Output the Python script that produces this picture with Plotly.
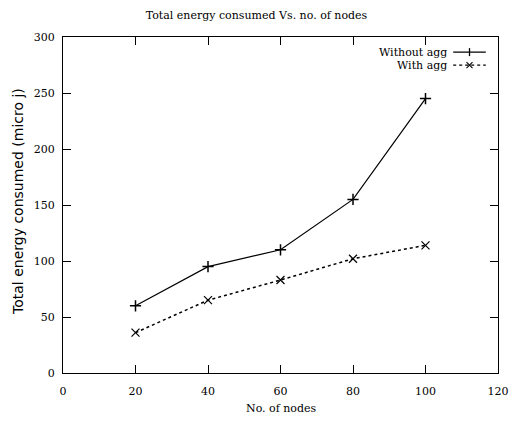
import plotly.graph_objects as go

nodes = [20, 40, 60, 80, 100]
without_agg = [60, 95, 110, 155, 245]
with_agg = [36, 65, 83, 102, 114]

serif = "DejaVu Serif, serif"
font = dict(family=serif, size=11, color="black")
tick_font = dict(family=serif, size=11, color="black")

fig = go.Figure()
fig.add_trace(go.Scatter(
    x=nodes, y=without_agg, mode="lines+markers", name="Without agg",
    line=dict(color="black", width=1.2),
    marker=dict(symbol="cross-thin-open", size=8, line=dict(color="black", width=1.5))
))
fig.add_trace(go.Scatter(
    x=nodes, y=with_agg, mode="lines+markers", name="With agg",
    line=dict(color="black", width=1.5, dash="dot"),
    marker=dict(symbol="x-thin-open", size=8, line=dict(color="black", width=1.2))
))

# gnuplot style legend: text right aligned, line sample to the right
legend_rows = [("Without agg", 0.955, "solid"), ("With agg", 0.916, "dot")]
for label, yp, dash in legend_rows:
    fig.add_annotation(x=0.885, y=yp, xref="paper", yref="paper", text=label,
                       showarrow=False, xanchor="right", yanchor="middle", font=font,
                       borderpad=0)
    fig.add_shape(type="line", xref="paper", yref="paper", x0=0.897, x1=0.972, y0=yp, y1=yp,
                  line=dict(color="black", width=1.2, dash=dash))
# sample markers
fig.add_shape(type="line", xref="paper", yref="paper", xsizemode="pixel", ysizemode="pixel",
              xanchor=0.9345, yanchor=0.955, x0=0, x1=0, y0=-4, y1=4,
              line=dict(color="black", width=1.3))
fig.add_shape(type="line", xref="paper", yref="paper", xsizemode="pixel", ysizemode="pixel",
              xanchor=0.9345, yanchor=0.916, x0=-3, x1=3, y0=-3, y1=3,
              line=dict(color="black", width=1.1))
fig.add_shape(type="line", xref="paper", yref="paper", xsizemode="pixel", ysizemode="pixel",
              xanchor=0.9345, yanchor=0.916, x0=-3, x1=3, y0=3, y1=-3,
              line=dict(color="black", width=1.1))

axis_common = dict(
    showline=True, linecolor="black", linewidth=1, mirror="ticks",
    ticks="inside", ticklen=8, tickcolor="black", tickwidth=1,
    showgrid=False, zeroline=False, tickfont=tick_font, automargin=False,
)
fig.update_xaxes(range=[0, 120], dtick=20, ticklabelstandoff=8, **axis_common)
fig.update_yaxes(range=[0, 300], dtick=50, ticklabelstandoff=5, **axis_common)

# axis titles
fig.add_annotation(x=0.5, y=-0.107, xref="paper", yref="paper", text="No. of nodes",
                   showarrow=False, xanchor="center", yanchor="middle",
                   font=dict(family=serif, size=11, color="black"))
fig.add_annotation(x=-0.105, y=0.51, xref="paper", yref="paper",
                   text="Total energy consumed (micro j)", textangle=-90,
                   showarrow=False, xanchor="center", yanchor="middle",
                   font=dict(family="DejaVu Sans", size=14, color="black"))

fig.update_layout(
    width=513, height=421,
    margin=dict(l=63, r=15, t=37, b=48),
    paper_bgcolor="white", plot_bgcolor="white",
    showlegend=False,
    font=font,
    title=dict(text="Total energy consumed Vs. no. of nodes", x=0.5, xanchor="center",
               y=1 - 15 / 421, yanchor="middle", font=dict(family=serif, size=11, color="black")),
)

fig.write_html("out.html", config={"displayModeBar": False},
               post_script="document.body.style.margin='0';")
